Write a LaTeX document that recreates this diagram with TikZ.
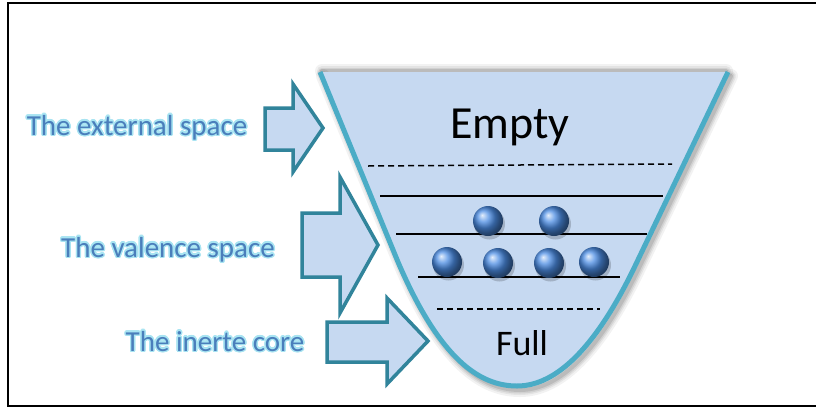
\documentclass[tikz,border=0pt]{standalone}
\usepackage{fontspec}
\setmainfont{Carlito}
\usepackage[copies]{contour}
\contourlength{1.4pt}
\contournumber{16}
\definecolor{fillblue}{HTML}{C6D9F1}
\definecolor{funnelline}{HTML}{4BACC6}
\definecolor{arrowline}{HTML}{31849B}
\definecolor{labelblue}{HTML}{4A7EBB}
\definecolor{glow}{HTML}{A8E4F2}
\definecolor{ballblue}{HTML}{4C8DE4}
\tikzset{
  blockarrow/.style={fill=fillblue, draw=arrowline, line width=3.5pt, line join=miter},
  level/.style={draw=black, line width=1.5pt},
  dashlevel/.style={draw=black, line width=1.5pt, dash pattern=on 6pt off 4pt},
  sidelabel/.style={font=\fontsize{29}{32}\selectfont, text=labelblue, inner sep=0pt},
  electron/.style={ball color=ballblue},
}
\begin{document}
\begin{tikzpicture}[x=1pt,y=-1pt]
\useasboundingbox (0,0) rectangle (816,410);
\fill[white] (0,0) rectangle (816,410);
% frame
\draw[black, line width=2pt] (816,3) -- (8,3) -- (8,406) -- (816,406);
% funnel shadow
\foreach \w/\o in {14/0.05,10/0.06,7/0.08,4/0.1} {
  \draw[black, opacity=\o, line width=\w pt, line cap=round, line join=round, shift={(3,4)}]
    (320,72) -- (398,262) .. controls (440,360) and (480,386) .. (517,386)
    .. controls (556,386) and (596,348) .. (636,264) -- (728,72);
  \draw[black, opacity=\o, line width=\w pt, line cap=round, shift={(0,-1)}] (322,72) -- (726,72);
}
% funnel body
\path[fill=fillblue] (320,72) -- (398,262) .. controls (440,360) and (480,386) .. (517,386)
    .. controls (556,386) and (596,348) .. (636,264) -- (728,72) -- cycle;
\draw[funnelline, line width=5pt] (320,72) -- (398,262) .. controls (440,360) and (480,386) .. (517,386)
    .. controls (556,386) and (596,348) .. (636,264) -- (728,72);
% levels
\coordinate (d1a) at (368,166); \coordinate (d1b) at (672,164);
\coordinate (s1a) at (380,196); \coordinate (s1b) at (663,196);
\coordinate (s2a) at (396,234); \coordinate (s2b) at (647,234);
\coordinate (s3a) at (418,277); \coordinate (s3b) at (620,277);
\coordinate (d2a) at (437,309); \coordinate (d2b) at (600,309);
\draw[dashlevel] (d1a) -- (d1b);
\draw[level] (s1a) -- (s1b);
\draw[level] (s2a) -- (s2b);
\draw[level] (s3a) -- (s3b);
\draw[dashlevel] (d2a) -- (d2b);
% electrons
\foreach \x/\y in {488/221,554/221,447/262,498/263,549/263,594/262} {
  \fill[black, opacity=0.18] (\x+1.5,\y+3) circle (15.5);
  \shade[electron] (\x,\y) circle (15);
}
% texts
\node[font=\fontsize{46}{50}\selectfont, inner sep=0pt] (empty) at (510,127) {Empty};
\node[font=\fontsize{36}{40}\selectfont, inner sep=0pt] (full) at (522,343) {Full};
% arrows
\draw[blockarrow] (265,108) -- (293,108) -- (293,84) -- (323,128) -- (293,172) -- (293,150) -- (265,150) -- cycle;
\draw[blockarrow] (302,213) -- (340,213) -- (340,177) -- (378,245) -- (340,313) -- (340,277) -- (302,277) -- cycle;
\draw[blockarrow] (327,322) -- (387,322) -- (387,298) -- (428,341) -- (387,384) -- (387,362) -- (327,362) -- cycle;
% labels
\node[sidelabel] (ext) at (137,128) {\contour{glow}{The external space}};
\node[sidelabel] (val) at (168,250) {\contour{glow}{The valence space}};
\node[sidelabel] (core) at (215,342) {\contour{glow}{The inerte core}};
\end{tikzpicture}
\end{document}
